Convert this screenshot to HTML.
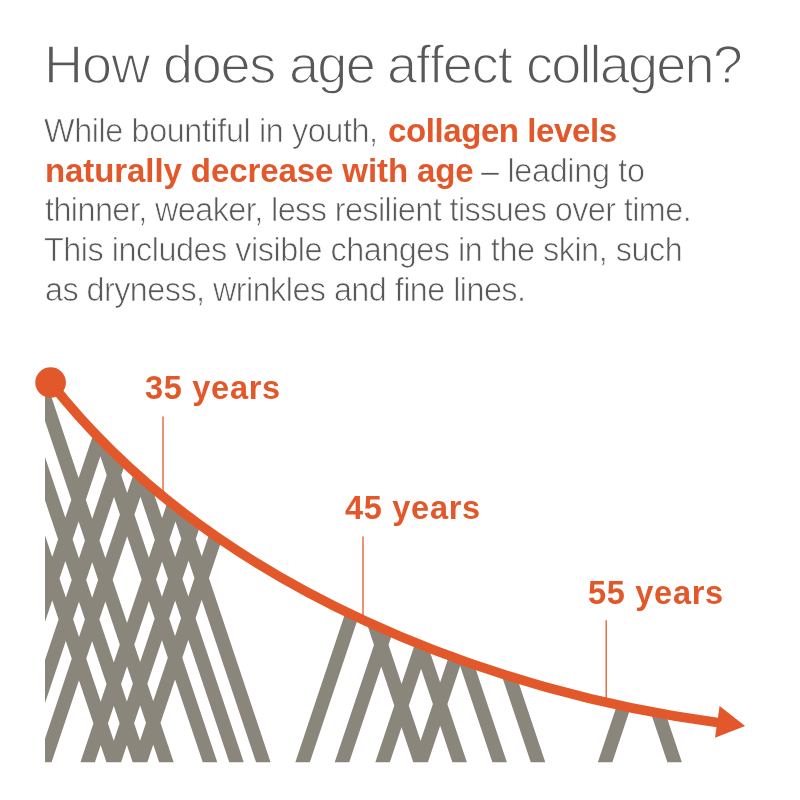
<!DOCTYPE html>
<html><head><meta charset="utf-8"><title>How does age affect collagen?</title>
<style>
html,body{margin:0;padding:0;background:#fff;}
body{width:800px;height:800px;position:relative;overflow:hidden;font-family:"Liberation Sans",sans-serif;color:#58585a;}
.t{position:absolute;margin:0;white-space:nowrap;line-height:1;font-weight:normal;will-change:transform;}
.t.b{font-weight:bold;color:#e2582a;}
svg{position:absolute;left:0;top:0;}
</style></head><body>
<h1 style="margin:0;font-size:54px;font-weight:normal"><span class="t" style="left:44.0px;top:36.79px;font-size:54.0px;letter-spacing:-0.95px;-webkit-text-stroke:1.4px #fff;">How</span> <span class="t" style="left:162.9px;top:36.79px;font-size:54.0px;letter-spacing:-1.267px;-webkit-text-stroke:1.4px #fff;">does</span> <span class="t" style="left:289.2px;top:36.79px;font-size:54.0px;letter-spacing:-1.7px;-webkit-text-stroke:1.4px #fff;">age</span> <span class="t" style="left:387.1px;top:36.79px;font-size:54.0px;letter-spacing:-1.08px;-webkit-text-stroke:1.4px #fff;">affect</span> <span class="t" style="left:526.0px;top:36.79px;font-size:54.0px;letter-spacing:-1.812px;-webkit-text-stroke:1.4px #fff;">collagen?</span></h1>
<div class="t" style="left:44.3px;top:115.07px;font-size:32.4px;letter-spacing:-0.408px;-webkit-text-stroke:0.7px #fff;">While bountiful in youth,</div>
<div class="t b" style="left:387.75px;top:114.37px;font-size:33.0px;letter-spacing:-0.411px;">collagen levels</div>
<div class="t b" style="left:44.8px;top:153.97px;font-size:33.0px;letter-spacing:-0.088px;">naturally decrease with age</div>
<div class="t" style="left:481.0px;top:154.67px;font-size:32.4px;letter-spacing:-0.318px;-webkit-text-stroke:0.7px #fff;">– leading to</div>
<div class="t" style="left:44.5px;top:194.27px;font-size:32.4px;letter-spacing:-0.58px;-webkit-text-stroke:0.7px #fff;">thinner, weaker, less resilient tissues over time.</div>
<div class="t" style="left:44.0px;top:234.07px;font-size:32.4px;letter-spacing:-0.48px;-webkit-text-stroke:0.7px #fff;">This includes visible changes in the skin, such</div>
<div class="t" style="left:44.6px;top:273.77px;font-size:32.4px;letter-spacing:-0.557px;-webkit-text-stroke:0.7px #fff;">as dryness, wrinkles and fine lines.</div>
<svg width="800" height="800" viewBox="0 0 800 800">
<defs><clipPath id="c"><path d="M50.5,382.5 C216.12,592.76 498.88,693.54 719,722.7 L719,762.6 L45.0,762.6 L45.0,382.5 Z"/></clipPath></defs>
<g clip-path="url(#c)"><path d="M106.50,762.6 L121.00,762.6 L-13.65,360 L-28.15,360Z M132.75,762.6 L147.25,762.6 L12.60,360 L-1.90,360Z M159.25,762.6 L173.75,762.6 L39.10,360 L24.60,360Z M202.85,762.6 L217.35,762.6 L82.70,360 L68.20,360Z M229.35,762.6 L243.85,762.6 L109.20,360 L94.70,360Z M256.15,762.6 L270.65,762.6 L136.00,360 L121.50,360Z M413.35,762.6 L427.85,762.6 L293.20,360 L278.70,360Z M452.45,762.6 L466.95,762.6 L332.30,360 L317.80,360Z M492.45,762.6 L506.95,762.6 L372.30,360 L357.80,360Z M530.85,762.6 L545.35,762.6 L410.70,360 L396.20,360Z M667.45,762.6 L681.95,762.6 L547.30,360 L532.80,360Z M37.00,762.6 L51.50,762.6 L186.15,360 L171.65,360Z M80.35,762.6 L94.85,762.6 L229.50,360 L215.00,360Z M106.50,762.6 L121.00,762.6 L255.65,360 L241.15,360Z M132.75,762.6 L147.25,762.6 L281.90,360 L267.40,360Z M-16.55,762.6 L-2.05,762.6 L132.60,360 L118.10,360Z M10.65,762.6 L25.15,762.6 L159.80,360 L145.30,360Z M295.25,762.6 L309.75,762.6 L444.40,360 L429.90,360Z M334.65,762.6 L349.15,762.6 L483.80,360 L469.30,360Z M375.25,762.6 L389.75,762.6 L524.40,360 L509.90,360Z M413.35,762.6 L427.85,762.6 L562.50,360 L548.00,360Z M597.75,762.6 L612.25,762.6 L746.90,360 L732.40,360Z" fill="#8b867c"/></g>
<g stroke="#e2582a" stroke-width="1.3"><line x1="163" y1="416.6" x2="163" y2="492"/><line x1="363" y1="536.6" x2="363" y2="618"/><line x1="606.2" y1="620.2" x2="606.2" y2="702"/></g>
<path d="M50.5,382.5 C216.12,592.76 498.88,693.54 719,722.7" fill="none" stroke="#e2582a" stroke-width="9.6"/>
<circle cx="50.6" cy="382.5" r="15.3" fill="#e2582a"/>
<path d="M745.1,725.9 L719.6,706 L715,737.8Z" fill="#e2582a"/>
</svg>
<div class="t b" style="left:145.0px;top:371.89px;font-size:32.5px;letter-spacing:0.714px;">35 years</div>
<div class="t b" style="left:345.0px;top:491.89px;font-size:32.5px;letter-spacing:0.714px;">45 years</div>
<div class="t b" style="left:588.0px;top:576.89px;font-size:32.5px;letter-spacing:0.714px;">55 years</div>
</body></html>
